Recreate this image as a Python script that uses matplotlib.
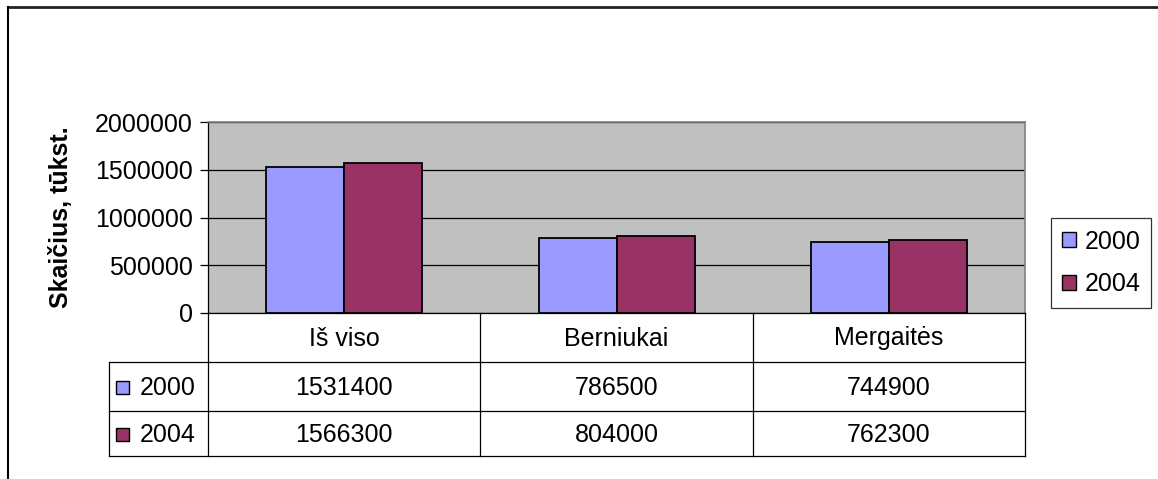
import matplotlib
matplotlib.use("Agg")
import matplotlib.pyplot as plt
from matplotlib.patches import Rectangle, Patch
from matplotlib.lines import Line2D
import numpy as np

plt.rcParams['font.family'] = ['Liberation Sans', 'DejaVu Sans']

categories = ["Iš viso", "Berniukai", "Mergaitės"]
series_names = ["2000", "2004"]
values_2000 = [1531400, 786500, 744900]
values_2004 = [1566300, 804000, 762300]
y_ticks = [0, 500000, 1000000, 1500000, 2000000]
y_label = "Skaičius, tūkst."
colors = ["#9999FF", "#993366"]

FS = 18

W, H = 1158, 479
fig = plt.figure(figsize=(W / 100, H / 100), dpi=100)

def fx(px):
    return px / W

def fy(py):
    return 1 - py / H

# plot area
L, R, T, B = 208, 1025, 122, 313
ax = fig.add_axes([fx(L), fy(B), fx(R) - fx(L), fy(T) - fy(B)])
ax.set_facecolor("#C0C0C0")
ax.set_xlim(0, 3)
ax.set_ylim(0, 2000000)
x = np.arange(3) + 0.5
bw = 78 / ((R - L) / 3)
for i, (vals, c) in enumerate(zip([values_2000, values_2004], colors)):
    ax.bar(x + (i - 0.5) * bw, vals, width=bw, color=c, edgecolor="black",
           linewidth=1.3, zorder=3)
ax.set_yticks(y_ticks)
ax.set_yticklabels([str(v) for v in y_ticks], fontsize=FS)
ax.yaxis.grid(True, color="black", linewidth=0.9, zorder=0)
ax.set_axisbelow(True)
ax.set_xticks([])
ax.tick_params(axis="y", length=6, width=0.9, color="black", pad=5)
for s in ["top", "right"]:
    ax.spines[s].set_color("#808080")
    ax.spines[s].set_linewidth(1.2)
ax.spines["left"].set_color("black")
ax.spines["bottom"].set_color("black")
ax.spines["left"].set_linewidth(0.9)
ax.spines["bottom"].set_linewidth(0.9)
ax.set_ylabel(y_label, fontsize=FS, fontweight="bold", labelpad=16)

# data table
TL = 109
tb_rows = [313, 362, 411, 456]
tax = fig.add_axes([fx(TL), fy(tb_rows[-1]), fx(R) - fx(TL), fy(tb_rows[0]) - fy(tb_rows[-1])])
cw = (R - L) / 3
tax.set_xlim(-(L - TL) / cw, 3)
tax.set_ylim(tb_rows[-1], tb_rows[0])
tax.axis("off")
lk = dict(color="black", linewidth=0.9, clip_on=False)
xl = -(L - TL) / cw
for yy in tb_rows[1:]:
    tax.plot([xl, 3], [yy, yy], **lk)
for xx in [0, 1, 2, 3]:
    tax.plot([xx, xx], [tb_rows[0], tb_rows[-1]], **lk)
tax.plot([xl, xl], [tb_rows[1], tb_rows[-1]], **lk)
for j, cat in enumerate(categories):
    tax.text(j + 0.5, (tb_rows[0] + tb_rows[1]) / 2 + 1, cat, ha="center", va="center", fontsize=FS)
for r, (vals, name, c) in enumerate(zip([values_2000, values_2004], series_names, colors)):
    yc = (tb_rows[r + 1] + tb_rows[r + 2]) / 2 + 1
    for j, v in enumerate(vals):
        tax.text(j + 0.5, yc, str(v), ha="center", va="center", fontsize=FS)
    ks = 13 / cw
    kx = xl + 7 / cw
    tax.add_patch(Rectangle((kx, yc - 6.5), ks, 13, facecolor=c, edgecolor="black",
                            linewidth=1.0, clip_on=False))
    tax.text(xl + 31 / cw, yc, name, ha="left", va="center", fontsize=FS)

# legend
handles = [Patch(facecolor=c, edgecolor="black", linewidth=1.0) for c in colors]
leg = fig.legend(handles, series_names, loc="center", bbox_to_anchor=(fx(1101), fy(263)),
                 fontsize=FS, frameon=True, fancybox=False, edgecolor="black",
                 handlelength=0.55, handleheight=0.55, handletextpad=0.35,
                 labelspacing=0.75, borderpad=0.45, borderaxespad=0)
leg.get_frame().set_linewidth(0.9)

# outer chart border (partial)
fig.add_artist(Line2D([fx(8), 1], [fy(7), fy(7)], color="#222222", linewidth=2.0))
fig.add_artist(Line2D([fx(8), fx(8)], [fy(7), 0], color="black", linewidth=1.5))

fig.savefig("out.png", dpi=100)
